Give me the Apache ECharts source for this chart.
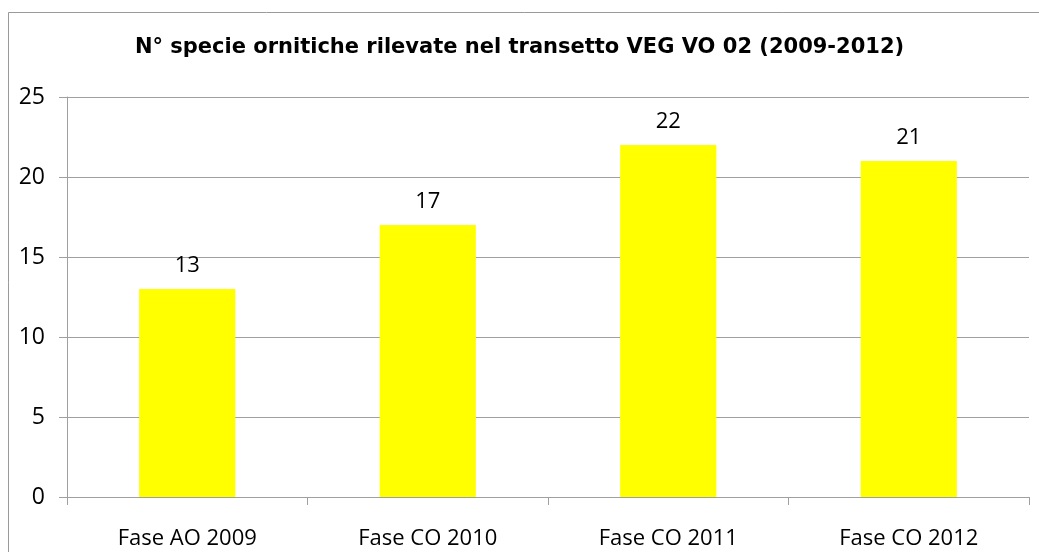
<!DOCTYPE html>
<html>
<head>
<meta charset="utf-8">
<title>N° specie ornitiche</title>
<style>
html, body { margin: 0; padding: 0; background: #fff; }
#main { width: 1039px; height: 552px; }
</style>
</head>
<body>
<div id="main"></div>
<script src="https://cdn.jsdelivr.net/npm/echarts@6/dist/echarts.min.js"></script>
<script>
// dati
var categories = ['Fase AO 2009', 'Fase CO 2010', 'Fase CO 2011', 'Fase CO 2012'];
var values = [13, 17, 22, 21];
var yTicks = [0, 5, 10, 15, 20, 25];

var myChart = echarts.init(document.getElementById('main'));
var font = '"Open Sans", "Noto Sans", sans-serif';

var option = {
    backgroundColor: '#fff',
    animation: false,
    title: {
        text: 'N° specie ornitiche rilevate nel transetto VEG VO 02 (2009-2012)',
        left: 'center',
        top: 32,
        textStyle: { fontFamily: '"DejaVu Sans", sans-serif', fontSize: 21, fontWeight: 'bold', color: '#000' }
    },
    graphic: [{
        type: 'rect',
        shape: { x: 8.5, y: 12.5, width: 1100, height: 600 },
        style: { fill: 'none', stroke: '#9a9a9a', lineWidth: 1 },
        silent: true
    }],
    grid: { left: 67, right: 10, top: 97, bottom: 55 },
    xAxis: {
        type: 'category',
        data: categories,
        axisLine: { lineStyle: { color: '#a0a0a0' } },
        axisTick: { show: true, length: 8, lineStyle: { color: '#a0a0a0' } },
        axisLabel: { fontFamily: font, fontSize: 22, color: '#000', margin: 31 }
    },
    yAxis: {
        type: 'value',
        min: yTicks[0],
        max: yTicks[yTicks.length - 1],
        interval: 5,
        axisLine: { show: true, lineStyle: { color: '#a0a0a0' } },
        axisTick: { show: true, length: 8, lineStyle: { color: '#a0a0a0' } },
        splitLine: { lineStyle: { color: '#a0a0a0' } },
        axisLabel: { fontFamily: font, fontSize: 23, color: '#000', margin: 22 }
    },
    series: [{
        type: 'bar',
        data: values,
        barWidth: '40%',
        itemStyle: { color: '#ffff00' },
        label: {
            show: true,
            position: 'top',
            distance: 12,
            fontFamily: font,
            fontSize: 22,
            color: '#000'
        }
    }]
};

myChart.setOption(option);
</script>
</body>
</html>
